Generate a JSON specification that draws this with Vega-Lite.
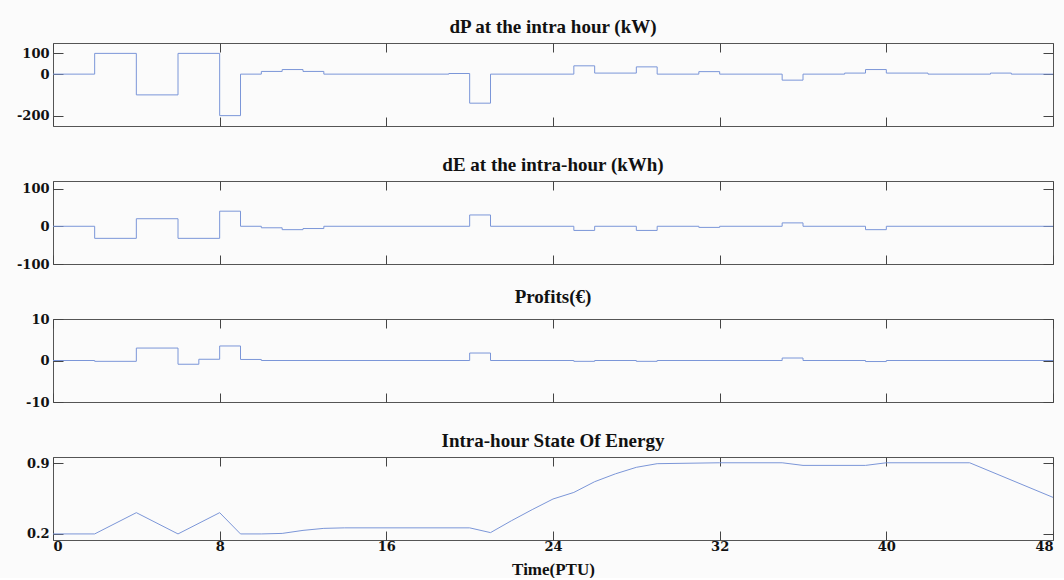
{
  "$schema": "https://vega.github.io/schema/vega-lite/v6.json",
  "background": "#fbfbfb",
  "padding": {"left": 15, "top": 17, "right": 8, "bottom": 0},
  "datasets": {
    "dP": [
      {"t": 0, "v": 0}, {"t": 2, "v": 100}, {"t": 4, "v": -100}, {"t": 6, "v": 100},
      {"t": 8, "v": -200}, {"t": 9, "v": 0}, {"t": 10, "v": 13}, {"t": 11, "v": 22},
      {"t": 12, "v": 13}, {"t": 13, "v": 0}, {"t": 19, "v": 3}, {"t": 20, "v": -140},
      {"t": 21, "v": 0}, {"t": 25, "v": 40}, {"t": 26, "v": 5}, {"t": 28, "v": 35},
      {"t": 29, "v": 0}, {"t": 31, "v": 12}, {"t": 32, "v": 0}, {"t": 35, "v": -29},
      {"t": 36, "v": 0}, {"t": 38, "v": 5}, {"t": 39, "v": 22}, {"t": 40, "v": 5},
      {"t": 42, "v": 0}, {"t": 45, "v": 5}, {"t": 46, "v": 0}, {"t": 48, "v": 0}
    ],
    "dE": [
      {"t": 0, "v": 0}, {"t": 2, "v": -32}, {"t": 4, "v": 20}, {"t": 6, "v": -32},
      {"t": 8, "v": 40}, {"t": 9, "v": 0}, {"t": 10, "v": -4}, {"t": 11, "v": -9},
      {"t": 12, "v": -6}, {"t": 13, "v": 0}, {"t": 20, "v": 30}, {"t": 21, "v": 0},
      {"t": 25, "v": -11}, {"t": 26, "v": 0}, {"t": 28, "v": -11}, {"t": 29, "v": 0},
      {"t": 31, "v": -3}, {"t": 32, "v": 0}, {"t": 35, "v": 9}, {"t": 36, "v": 0},
      {"t": 39, "v": -9}, {"t": 40, "v": 0}, {"t": 48, "v": 0}
    ],
    "profit": [
      {"t": 0, "v": 0}, {"t": 2, "v": -0.2}, {"t": 4, "v": 3}, {"t": 6, "v": -0.9},
      {"t": 7, "v": 0.3}, {"t": 8, "v": 3.5}, {"t": 9, "v": 0.25}, {"t": 10, "v": 0},
      {"t": 20, "v": 1.8}, {"t": 21, "v": 0}, {"t": 25, "v": -0.2}, {"t": 26, "v": 0},
      {"t": 28, "v": -0.2}, {"t": 29, "v": 0}, {"t": 35, "v": 0.6}, {"t": 36, "v": 0},
      {"t": 39, "v": -0.25}, {"t": 40, "v": 0}, {"t": 48, "v": 0}
    ],
    "soe": [
      {"t": 0, "v": 0.2}, {"t": 2, "v": 0.2}, {"t": 4, "v": 0.41}, {"t": 6, "v": 0.2},
      {"t": 8, "v": 0.41}, {"t": 9, "v": 0.2}, {"t": 10, "v": 0.2}, {"t": 11, "v": 0.205},
      {"t": 12, "v": 0.235}, {"t": 13, "v": 0.255}, {"t": 14, "v": 0.26}, {"t": 20, "v": 0.26},
      {"t": 21, "v": 0.213}, {"t": 22, "v": 0.33}, {"t": 23, "v": 0.44}, {"t": 24, "v": 0.545},
      {"t": 25, "v": 0.61}, {"t": 26, "v": 0.716}, {"t": 27, "v": 0.794}, {"t": 28, "v": 0.858},
      {"t": 29, "v": 0.894}, {"t": 32, "v": 0.903}, {"t": 35, "v": 0.903}, {"t": 36, "v": 0.877},
      {"t": 39, "v": 0.877}, {"t": 40, "v": 0.903}, {"t": 44, "v": 0.903}, {"t": 48, "v": 0.561}
    ]
  },
  "spacing": 55,
  "bounds": "flush",
  "vconcat": [
    {
      "title": "dP at the intra hour (kW)",
      "width": 1000, "height": 83,
      "data": {"name": "dP"},
      "layer": [
        {"mark": {"type": "line", "interpolate": "step-after", "color": "#7b96d8", "strokeWidth": 1},
         "encoding": {
           "x": {"field": "t", "type": "quantitative", "scale": {"domain": [0, 48], "nice": false}, "axis": {"orient": "bottom", "values": [0, 8, 16, 24, 32, 40, 48], "labels": false, "title": null, "tickSize": -9}},
           "y": {"field": "v", "type": "quantitative", "scale": {"domain": [-250, 150], "nice": false, "zero": false}, "axis": {"orient": "left", "values": [-200, 0, 100], "tickSize": -10, "labelPadding": 14, "title": null, "labelExpr": "replace(datum.label, '−', '-')"}}
         }},
        {"mark": {"type": "line", "interpolate": "step-after", "opacity": 0},
         "encoding": {
           "x": {"field": "t", "type": "quantitative", "axis": {"orient": "top", "values": [0, 8, 16, 24, 32, 40, 48], "labels": false, "title": null, "tickSize": -9}},
           "y": {"field": "v", "type": "quantitative", "axis": {"orient": "right", "values": [-200, 0, 100], "labels": false, "tickSize": -10, "title": null}}
         }}
      ],
      "resolve": {"axis": {"x": "independent", "y": "independent"}}
    },
    {
      "title": "dE at the intra-hour (kWh)",
      "width": 1000, "height": 83,
      "data": {"name": "dE"},
      "layer": [
        {"mark": {"type": "line", "interpolate": "step-after", "color": "#7b96d8", "strokeWidth": 1},
         "encoding": {
           "x": {"field": "t", "type": "quantitative", "scale": {"domain": [0, 48], "nice": false}, "axis": {"orient": "bottom", "values": [0, 8, 16, 24, 32, 40, 48], "labels": false, "title": null, "tickSize": -9}},
           "y": {"field": "v", "type": "quantitative", "scale": {"domain": [-100, 120], "nice": false, "zero": false}, "axis": {"orient": "left", "values": [-100, 0, 100], "tickSize": -10, "labelPadding": 14, "title": null, "labelExpr": "replace(datum.label, '−', '-')"}}
         }},
        {"mark": {"type": "line", "interpolate": "step-after", "opacity": 0},
         "encoding": {
           "x": {"field": "t", "type": "quantitative", "axis": {"orient": "top", "values": [0, 8, 16, 24, 32, 40, 48], "labels": false, "title": null, "tickSize": -9}},
           "y": {"field": "v", "type": "quantitative", "axis": {"orient": "right", "values": [-100, 0, 100], "labels": false, "tickSize": -10, "title": null}}
         }}
      ],
      "resolve": {"axis": {"x": "independent", "y": "independent"}}
    },
    {
      "title": "Profits(€)",
      "width": 1000, "height": 83,
      "data": {"name": "profit"},
      "layer": [
        {"mark": {"type": "line", "interpolate": "step-after", "color": "#7b96d8", "strokeWidth": 1},
         "encoding": {
           "x": {"field": "t", "type": "quantitative", "scale": {"domain": [0, 48], "nice": false}, "axis": {"orient": "bottom", "values": [0, 8, 16, 24, 32, 40, 48], "labels": false, "title": null, "tickSize": -9}},
           "y": {"field": "v", "type": "quantitative", "scale": {"domain": [-10, 10], "nice": false, "zero": false}, "axis": {"orient": "left", "values": [-10, 0, 10], "tickSize": -10, "labelPadding": 14, "title": null, "labelExpr": "replace(datum.label, '−', '-')"}}
         }},
        {"mark": {"type": "line", "interpolate": "step-after", "opacity": 0},
         "encoding": {
           "x": {"field": "t", "type": "quantitative", "axis": {"orient": "top", "values": [0, 8, 16, 24, 32, 40, 48], "labels": false, "title": null, "tickSize": -9}},
           "y": {"field": "v", "type": "quantitative", "axis": {"orient": "right", "values": [-10, 0, 10], "labels": false, "tickSize": -10, "title": null}}
         }}
      ],
      "resolve": {"axis": {"x": "independent", "y": "independent"}}
    },
    {
      "title": "Intra-hour State Of Energy",
      "width": 1000, "height": 83,
      "data": {"name": "soe"},
      "layer": [
        {"mark": {"type": "line", "color": "#7b96d8", "strokeWidth": 1},
         "encoding": {
           "x": {"field": "t", "type": "quantitative", "scale": {"domain": [0, 48], "nice": false}, "axis": {"orient": "bottom", "values": [0, 8, 16, 24, 32, 40, 48], "labels": true, "title": "Time(PTU)", "tickSize": -9, "labelPadding": 9, "titlePadding": 8}},
           "y": {"field": "v", "type": "quantitative", "scale": {"domain": [0.14, 0.96], "nice": false, "zero": false}, "axis": {"orient": "left", "values": [0.2, 0.9], "format": ".1f", "tickSize": -10, "labelPadding": 14, "title": null}}
         }},
        {"mark": {"type": "line", "opacity": 0},
         "encoding": {
           "x": {"field": "t", "type": "quantitative", "axis": {"orient": "top", "values": [0, 8, 16, 24, 32, 40, 48], "labels": false, "title": null, "tickSize": -9}},
           "y": {"field": "v", "type": "quantitative", "axis": {"orient": "right", "values": [0.2, 0.9], "labels": false, "tickSize": -10, "title": null}}
         }}
      ],
      "resolve": {"axis": {"x": "independent", "y": "independent"}}
    }
  ],
  "config": {
    "view": {"stroke": "#555", "strokeWidth": 1},
    "title": {"font": "Liberation Serif", "fontWeight": "bold", "fontSize": 19, "offset": 6, "color": "#111", "anchor": "middle"},
    "axis": {
      "domain": false, "grid": false, "tickColor": "#444", "tickWidth": 1,
      "labelFont": "DejaVu Serif", "labelFontWeight": "bold", "labelFontSize": 13, "labelColor": "#111",
      "titleFont": "Liberation Serif", "titleFontWeight": "bold", "titleFontSize": 17, "titleColor": "#111"
    }
  }
}
